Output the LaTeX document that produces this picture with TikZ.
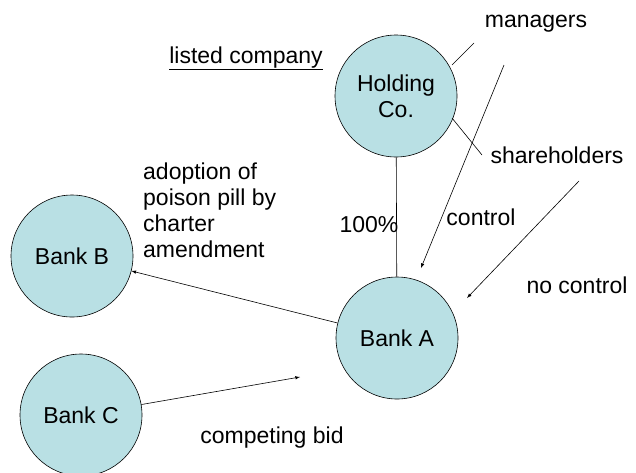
\documentclass[tikz,border=0pt]{standalone}
\usepackage{fontspec}
\setmainfont{Liberation Sans}
\definecolor{bankfill}{RGB}{185,224,228}
\tikzset{
    bank/.style={circle, draw=black, line width=0.6pt, fill=bankfill, minimum size=122pt, inner sep=0pt, align=center},
    lbl/.style={anchor=base, inner sep=0pt},
    link/.style={black, line width=0.6pt},
}
\begin{document}
\begin{tikzpicture}[x=1pt, y=-1pt, font=\fontsize{23}{26}\selectfont]
        \useasboundingbox (0,0) rectangle (636,472);
        % companies
        \node[bank] (hold) at (396,96) {Holding\\Co.};
        \node[bank] (bankA) at (397,338) {Bank A};
        \node[bank] (bankB) at (72,256) {Bank B};
        \node[bank] (bankC) at (81,415) {Bank C};
        % labels
        \node[lbl] (listed) at (246,63) {\underline{listed company}};
        \node[lbl] (mgr) at (536,27) {managers};
        \node[lbl] (shr) at (557,163) {shareholders};
        \node[lbl] (ctrl) at (481,225) {control};
        \node[lbl] (pct) at (369,232) {100\%};
        \node[lbl] (noctrl) at (577,293) {no control};
        \node[lbl] (bid) at (272,443) {competing bid};
        \node[anchor=north west, inner sep=0pt, align=left] (pill) at (143,163)
            {adoption of\\poison pill by\\charter\\amendment};
        % free ends
        \coordinate (mgrA) at (452,65);
        \coordinate (mgrB) at (474,43);
        \coordinate (shrA) at (452,118);
        \coordinate (shrB) at (482,155);
        \coordinate (ctrlA) at (504,65);
        \coordinate (ctrlB) at (421,268);
        \coordinate (noA) at (579,181);
        \coordinate (noB) at (467,298);
        \coordinate (bidEnd) at (300,377);
        % connectors
        \draw[link] (hold) -- (bankA);
        \draw[link] (mgrA) -- (mgrB);
        \draw[link] (shrA) -- (shrB);
        \draw[link, -latex] (ctrlA) -- (ctrlB);
        \draw[link, -latex] (noA) -- (noB);
        \draw[link, -latex] (bankA) -- (bankB);
        \draw[link, -latex] (bankC) -- (bidEnd);
    \end{tikzpicture}
\end{document}
